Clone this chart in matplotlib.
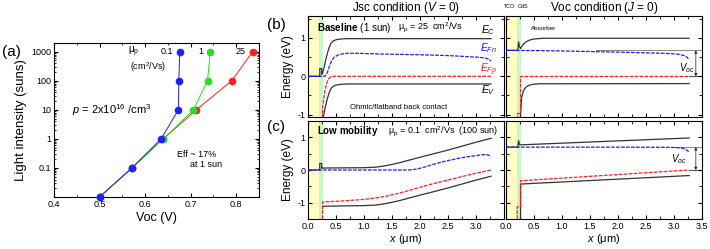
import matplotlib
matplotlib.use('Agg')
import matplotlib.pyplot as plt
from matplotlib.ticker import MultipleLocator, FixedLocator, NullFormatter, LogLocator

plt.rcParams['font.family'] = ['Liberation Sans', 'DejaVu Sans']
plt.rcParams['mathtext.fontset'] = 'custom'
plt.rcParams['mathtext.rm'] = 'Liberation Sans'
plt.rcParams['mathtext.it'] = 'Liberation Sans:italic'
plt.rcParams['mathtext.bf'] = 'Liberation Sans:bold'

# ---------------- panel (a): Voc vs light intensity ----------------
suns = [0.01, 0.1, 1, 10, 100, 1000]
voc_mu01 = [0.500, 0.571, 0.635, 0.673, 0.674, 0.676]
voc_mu1 = [0.500, 0.571, 0.640, 0.706, 0.737, 0.743]
voc_mu25 = [0.500, 0.571, 0.640, 0.712, 0.790, 0.836]
mu_labels = ['0.1', '1', '25']

# ---------------- band diagrams (x in um, E in eV) ----------------
# (b) baseline, Jsc
bj_ec_x = [0, 0.21, 0.21, 0.245, 0.245, 0.26, 0.29, 0.32, 0.35, 0.38, 0.41, 0.45, 0.5, 0.55, 0.62, 0.7, 0.8, 3.27]
bj_ec_y = [0, 0, 0.2, 0.2, 0.05, 0.08, 0.25, 0.45, 0.62, 0.76, 0.86, 0.92, 0.95, 0.965, 0.975, 0.98, 0.98, 0.98]
bj_fn_x = [0, 0.3, 0.34, 0.38, 0.42, 0.47, 0.53, 0.6, 0.7, 0.85, 1.3, 2.0, 2.5, 3.0, 3.15, 3.22, 3.27]
bj_fn_y = [0, 0, 0.08, 0.25, 0.4, 0.5, 0.55, 0.58, 0.6, 0.6, 0.58, 0.56, 0.54, 0.5, 0.48, 0.45, 0.4]
bj_fp_x = [0.26, 0.26, 0.28, 0.3, 0.33, 0.36, 0.4, 0.45, 0.5, 3.27]
bj_fp_y = [-1.1, -0.8, -0.6, -0.4, -0.2, -0.08, -0.02, 0, 0, 0]
bj_ev_x = [0.27, 0.29, 0.32, 0.35, 0.38, 0.41, 0.45, 0.5, 0.55, 0.62, 0.7, 3.27]
bj_ev_y = [-1.1, -0.93, -0.73, -0.56, -0.42, -0.32, -0.26, -0.23, -0.215, -0.205, -0.2, -0.2]

# (b) baseline, Voc
bv_ec_x = [0, 0.21, 0.225, 0.24, 0.26, 0.3, 0.35, 0.4, 0.45, 0.5, 0.57, 0.65, 3.27]
bv_ec_y = [0.675, 0.675, 0.9, 0.78, 0.72, 0.82, 0.89, 0.93, 0.955, 0.97, 0.98, 0.99, 0.99]
bv_fn_x = [0, 0.5, 1.0, 1.5, 2.0, 2.5, 2.8, 3.0, 3.1, 3.18, 3.23, 3.27]
bv_fn_y = [0.675, 0.67, 0.66, 0.645, 0.63, 0.61, 0.6, 0.585, 0.57, 0.54, 0.5, 0.43]
bv_fp_x = [0.2, 0.2, 0.25, 0.25, 3.27]
bv_fp_y = [-1.1, -0.95, -0.95, 0, 0]
bv_ev_x = [0.26, 0.26, 0.28, 0.31, 0.35, 0.4, 0.45, 0.5, 0.6, 3.27]
bv_ev_y = [-1.1, -1.0, -0.55, -0.38, -0.29, -0.24, -0.22, -0.205, -0.195, -0.19]

# (c) low mobility, Jsc
cj_ec_x = [0, 0.21, 0.21, 0.245, 0.245, 0.26, 0.6, 1.0, 1.2, 1.35, 1.5, 1.65, 1.8, 2.0, 2.23, 2.5, 2.75, 3.0, 3.27]
cj_ec_y = [0, 0, 0.2, 0.2, 0.05, 0.06, 0.065, 0.07, 0.085, 0.12, 0.17, 0.23, 0.3, 0.39, 0.49, 0.61, 0.73, 0.85, 0.97]
cj_fn_x = [0, 1.8, 1.95, 2.1, 2.23, 2.4, 2.53, 2.7, 2.83, 3.0, 3.13, 3.2, 3.27]
cj_fn_y = [0, 0, 0.03, 0.1, 0.17, 0.25, 0.3, 0.36, 0.4, 0.44, 0.47, 0.47, 0.42]
cj_fp_x = [0.26, 0.26, 0.6, 1.0, 1.2, 1.4, 1.6, 1.8, 2.0, 2.23, 2.5, 2.75, 3.0, 3.27]
cj_fp_y = [-1.5, -0.98, -0.95, -0.9, -0.86, -0.8, -0.72, -0.63, -0.53, -0.42, -0.31, -0.2, -0.1, 0.0]
cj_ev_x = [0.27, 0.6, 1.0, 1.2, 1.35, 1.5, 1.65, 1.8, 2.0, 2.23, 2.5, 2.75, 3.0, 3.27]
cj_ev_y = [-1.11, -1.1, -1.09, -1.075, -1.04, -0.99, -0.93, -0.86, -0.77, -0.67, -0.55, -0.43, -0.31, -0.19]

# (c) low mobility, Voc
cv_ec_x = [0, 0.21, 0.225, 0.24, 0.26, 3.27]
cv_ec_y = [0.70, 0.70, 0.9, 0.78, 0.77, 0.98]
cv_fn_x = [0, 1.0, 2.0, 2.8, 3.0, 3.1, 3.17, 3.22, 3.27]
cv_fn_y = [0.70, 0.70, 0.70, 0.695, 0.69, 0.68, 0.66, 0.62, 0.55]
cv_fp_x = [0.2, 0.2, 0.26, 0.26, 3.27]
cv_fp_y = [-1.5, -1.12, -1.12, -0.33, 0.0]
cv_ev_x = [0.26, 0.26, 3.27]
cv_ev_y = [-1.5, -0.43, -0.17]

voc_b = 0.675
voc_c = 0.70
tco_end = 0.2
cds_end = 0.26
x_end = 3.27

W, H = 710, 249
fig = plt.figure(figsize=(W / 100, H / 100), dpi=100)


def box(l, r, t, b):
    return [l / W, 1 - b / H, (r - l) / W, (b - t) / H]


TICK = 6.5
BLK = '#333333'
BLUE = '#1f1fff'
RED = '#ff1f1f'
GREEN = '#22e022'

# ---------------- (a) ----------------
axa = fig.add_axes(box(54, 259, 43, 197))
for v, c in zip([voc_mu25, voc_mu1, voc_mu01], [RED, GREEN, BLUE]):
    axa.plot(v, suns, '-', color=c, lw=0.7, marker='o', ms=4.5, mec=c, mfc=c, clip_on=False, zorder=3)
axa.set_yscale('log')
axa.set_xlim(0.4, 0.85)
axa.set_ylim(0.01, 2000)
axa.xaxis.set_major_locator(FixedLocator([0.4, 0.5, 0.6, 0.7, 0.8]))
axa.xaxis.set_minor_locator(MultipleLocator(0.05))
axa.yaxis.set_major_locator(FixedLocator([0.1, 1, 10, 100, 1000]))
axa.set_yticklabels(['0.1', '1', '10', '100', '1000'])
axa.yaxis.set_minor_locator(LogLocator(base=10, subs=range(2, 10), numticks=20))
axa.yaxis.set_minor_formatter(NullFormatter())
axa.tick_params(which='both', direction='in', top=True, right=True, labelsize=TICK, pad=2)
axa.tick_params(which='major', length=3)
axa.tick_params(which='minor', length=1.5)
axa.set_xlabel('Voc (V)', fontsize=9, labelpad=2)
axa.set_ylabel('Light intensity (suns)', fontsize=9.5, labelpad=3)
axa.text(0.574, 1000, 'μ$_\\mathrm{p}$', fontsize=7, ha='center', va='center')
axa.text(0.607, 300, '(cm$^2$/Vs)', fontsize=6.5, ha='center', va='center')
for lab, xp in zip(mu_labels, [0.648, 0.722, 0.81]):
    axa.text(xp, 1000, lab, fontsize=6.5, ha='center', va='center')
axa.text(0.44, 10, '$p$ = 2x10$^{16}$ /cm$^3$', fontsize=8, ha='left', va='center')
axa.text(0.714, 0.3, 'Eff ~ 17%', fontsize=6.5, ha='center', va='center')
axa.text(0.734, 0.13, 'at 1 sun', fontsize=6.5, ha='center', va='center')
fig.text(2 / W, 1 - 52 / H, '(a)', fontsize=11, ha='left', va='center')

# ---------------- (b), (c) ----------------
axbj = fig.add_axes(box(308, 504, 16, 117))
axbv = fig.add_axes(box(506, 702, 16, 117))
axcj = fig.add_axes(box(308, 504, 121, 219))
axcv = fig.add_axes(box(506, 702, 121, 219))

curves = {
    axbj: (bj_ec_x, bj_ec_y, bj_fn_x, bj_fn_y, bj_fp_x, bj_fp_y, bj_ev_x, bj_ev_y),
    axbv: (bv_ec_x, bv_ec_y, bv_fn_x, bv_fn_y, bv_fp_x, bv_fp_y, bv_ev_x, bv_ev_y),
    axcj: (cj_ec_x, cj_ec_y, cj_fn_x, cj_fn_y, cj_fp_x, cj_fp_y, cj_ev_x, cj_ev_y),
    axcv: (cv_ec_x, cv_ec_y, cv_fn_x, cv_fn_y, cv_fp_x, cv_fp_y, cv_ev_x, cv_ev_y),
}
for ax, (ecx, ecy, fnx, fny, fpx, fpy, evx, evy) in curves.items():
    ax.axvspan(0, tco_end, color='#ffffc4', lw=0, zorder=0)
    ax.axvspan(tco_end, cds_end, color='#c8f8c8', lw=0, zorder=0)
    ax.plot(ecx, ecy, '-', color=BLK, lw=0.9, zorder=2)
    ax.plot(evx, evy, '-', color=BLK, lw=0.9, zorder=2)
    ax.plot(fnx, fny, '--', color=BLUE, lw=0.9, dashes=(3, 1), zorder=3)
    ax.plot(fpx, fpy, '--', color=RED, lw=0.9, dashes=(3, 1), zorder=3)
    ax.set_xlim(0, 3.5)
    ax.xaxis.set_major_locator(MultipleLocator(0.5))
    ax.xaxis.set_minor_locator(MultipleLocator(0.25))
    ax.yaxis.set_major_locator(MultipleLocator(1))
    ax.yaxis.set_minor_locator(MultipleLocator(0.5))
    ax.tick_params(which='both', direction='in', top=True, right=True, labelsize=TICK, pad=2)
    ax.tick_params(which='major', length=3)
    ax.tick_params(which='minor', length=2)
    for s in ax.spines.values():
        s.set_linewidth(0.8)

axbj.set_ylim(-1.06, 1.57)
axbv.set_ylim(-1.06, 1.57)
axcj.set_ylim(-1.5, 1.5)
axcv.set_ylim(-1.5, 1.5)
axbj.set_yticks([-1, 0, 1])
axcj.set_yticks([-1, 0, 1])
axbj.set_yticklabels(['-1', '0', '1'])
axcj.set_yticklabels(['-1', '0', '1'])
for ax in (axbv, axcv):
    ax.tick_params(labelleft=False)
for ax in (axbj, axbv):
    ax.tick_params(labelbottom=False)
axcj.set_xticks([0, 0.5, 1.0, 1.5, 2.0, 2.5, 3.0])
axcj.set_xticklabels(['0.0', '0.5', '1.0', '1.5', '2.0', '2.5', '3.0'])
axcv.set_xticks([0, 0.5, 1.0, 1.5, 2.0, 2.5, 3.0, 3.5])
axcv.set_xticklabels(['0.0', '0.5', '1.0', '1.5', '2.0', '2.5', '3.0', '3.5'])
axcj.xaxis.set_minor_locator(MultipleLocator(0.25))
axcv.xaxis.set_minor_locator(MultipleLocator(0.25))

for ax in (axbj, axcj):
    ax.set_ylabel('Energy (eV)', fontsize=8.5, labelpad=2)
for ax in (axcj, axcv):
    ax.set_xlabel('$x$ (μm)', fontsize=8, labelpad=1)

axbj.set_title('Jsc condition ($V$ = 0)', fontsize=8.5, pad=2)
axbv.set_title('Voc condition ($J$ = 0)', fontsize=8.5, pad=2)

# reference lines and Voc arrows on the open-circuit panels
for ax, vv, x0, (tx, ty) in ((axbv, voc_b, 1.6, (3.23, 0.21)), (axcv, voc_c, 3.0, (3.08, 0.34))):
    ax.plot([x0, 3.5], [vv, vv], '-', color='#888888', lw=0.7, zorder=1)
    ax.plot([x_end, 3.5], [0, 0], '-', color='#555555', lw=0.8, zorder=1)
    ax.annotate('', xy=(3.39, 0), xytext=(3.39, vv),
                arrowprops=dict(arrowstyle='<|-|>', lw=0.5, color='#222222',
                                shrinkA=0, shrinkB=0, mutation_scale=4))
    ax.text(tx, ty, '$V_{oc}$', fontsize=7, ha='center', va='center')

# band labels
for txt, yy, col in (('$E_C$', 1.19, 'black'), ('$E_{Fn}$', 0.73, BLUE),
                     ('$E_{Fp}$', 0.16, RED), ('$E_V$', -0.36, 'black')):
    axbj.text(3.22, yy, txt, fontsize=7.5, color=col, ha='center', va='center')

axbj.text(0.16, 1.27, '$\\mathbf{Baseline}$ (1 sun)', fontsize=7, ha='left', va='center')
axbj.text(1.6, 1.27, 'μ$_\\mathrm{p}$ = 25  cm$^2$/Vs', fontsize=6.5, ha='left', va='center')
axbj.text(0.75, -0.8, 'Ohmic/flatband back contact', fontsize=5.5, ha='left', va='center')
axcj.text(0.16, 1.2, '$\\mathbf{Low\\ mobility}$', fontsize=7, ha='left', va='center')
axcj.text(1.42, 1.2, 'μ$_\\mathrm{p}$ = 0.1  cm$^2$/Vs  (100 sun)', fontsize=6.5, ha='left', va='center')
axbv.text(0.45, 1.25, 'Absorber', fontsize=4.5, ha='left', va='center')

fig.text(509.5 / W, 1 - 6 / H, 'TCO', fontsize=4, ha='center', va='center')
fig.text(523.5 / W, 1 - 6.5 / H, 'CdS', fontsize=4, ha='center', va='center')
fig.text(267 / W, 1 - 25 / H, '(b)', fontsize=11, ha='left', va='center')
fig.text(267 / W, 1 - 127 / H, '(c)', fontsize=11, ha='left', va='center')

fig.savefig('out.png', dpi=100)
